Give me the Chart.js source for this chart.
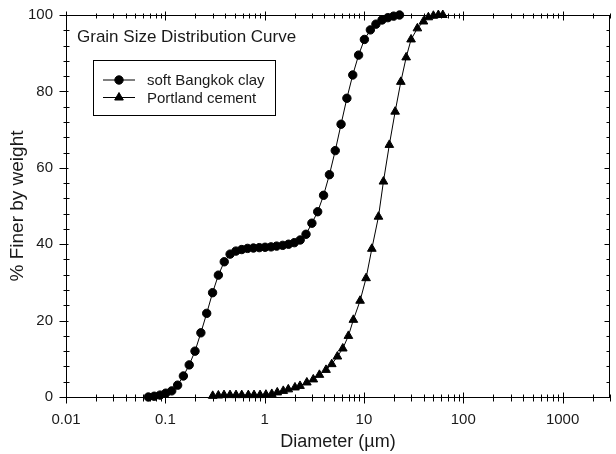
<!DOCTYPE html>
<html>
<head>
<meta charset="utf-8">
<script src="https://cdn.jsdelivr.net/npm/chart.js@4.4.0/dist/chart.umd.min.js"></script>
<style>
  html, body { margin: 0; padding: 0; background: #fff; }
  #wrap { width: 616px; height: 454px; }
</style>
</head>
<body>
<div id="wrap"><canvas id="gsd" width="616" height="454"></canvas></div>
<script>
// values (diameter in µm, % finer by weight)
const clayDiameter = [0.0675, 0.0773, 0.0885, 0.101, 0.116, 0.133, 0.152, 0.174, 0.199, 0.228,
  0.261, 0.299, 0.342, 0.392, 0.449, 0.514, 0.588, 0.673, 0.771, 0.883,
  1.01, 1.16, 1.32, 1.52, 1.74, 1.99, 2.28, 2.61, 2.99, 3.42,
  3.92, 4.49, 5.14, 5.88, 6.73, 7.71, 8.83, 10.1, 11.6, 13.2,
  15.2, 17.4, 19.9, 22.8];
const clayFiner = [0, 0.2, 0.5, 1.0, 1.6, 3.1, 5.5, 8.4, 12.0, 16.8,
  21.9, 27.3, 31.9, 35.4, 37.4, 38.2, 38.6, 38.9, 39.0, 39.1,
  39.2, 39.3, 39.5, 39.7, 40.0, 40.4, 41.1, 42.6, 45.5, 48.5,
  52.8, 58.2, 64.5, 71.4, 78.2, 84.3, 89.5, 93.6, 96.1, 97.6,
  98.7, 99.3, 99.7, 100];

const cementDiameter = [0.300, 0.342, 0.390, 0.448, 0.515, 0.588, 0.685, 0.782, 0.899, 1.03,
  1.18, 1.34, 1.54, 1.73, 2.02, 2.27, 2.66, 3.09, 3.56, 4.15,
  4.74, 5.40, 6.12, 6.97, 7.82, 9.14, 10.5, 12.0, 14.0, 15.7,
  18.0, 20.6, 23.5, 26.6, 29.8, 34.5, 39.7, 44.5, 50.0, 56.1,
  62.2];
const cementFiner = [0.3, 0.4, 0.5, 0.5, 0.5, 0.5, 0.5, 0.5, 0.5, 0.6,
  0.8, 1.2, 1.6, 2.0, 2.5, 2.9, 3.8, 4.6, 5.8, 7.1,
  8.6, 10.6, 12.7, 16.0, 20.2, 25.2, 31.1, 38.8, 47.2, 56.4,
  66.0, 74.7, 82.5, 88.9, 93.6, 96.5, 98.3, 99.4, 99.8, 100, 100];

const xTickValues = [0.01, 0.1, 1, 10, 100, 1000];
const xTickLabels = ['0.01', '0.1', '1', '10', '100', '1000'];
const yTickValues = [0, 20, 40, 60, 80, 100];
const seriesNames = ['soft Bangkok clay', 'Portland cement'];
const plotTitle = 'Grain Size Distribution Curve';

const FONT = 'Arial, "Liberation Sans", sans-serif';
const INK = '#1a1a1a';

const toPoints = (xs, ys) => xs.map((d, i) => ({ x: d, y: ys[i] }));

// frame with crossing ticks on all four sides
const frameTicks = {
  id: 'frameTicks',
  beforeDatasetsDraw(chart) {
    const { ctx, chartArea: a, scales: { x, y } } = chart;
    const L = Math.round(a.left) + 0.5, R = Math.round(a.right) - 0.5;
    const T = Math.round(a.top) + 0.5, B = Math.round(a.bottom) + 0.5;
    ctx.save();
    ctx.strokeStyle = '#000';
    ctx.lineWidth = 1;
    ctx.strokeRect(L, T, R - L, B - T);
    ctx.beginPath();
    const seg = (x1, y1, x2, y2) => { ctx.moveTo(x1, y1); ctx.lineTo(x2, y2); };

    xTickValues.forEach(v => {
      for (let m = 1; m <= 9; m++) {
        const px = Math.round(x.getPixelForValue(v * m)) + 0.5;
        if (px > R + 1) break;
        const major = m === 1;
        seg(px, B - (major ? 5 : 3), px, B + (major ? 6 : 4));
        seg(px, T - (major ? 4 : 2), px, T + (major ? 5 : 3));
      }
    });

    for (let v = 0; v <= 100; v += 4) {
      const py = Math.round(y.getPixelForValue(v)) + 0.5;
      const major = v % 20 === 0;
      seg(L - (major ? 7 : 3), py, L + (major ? 2 : 3), py);
      seg(R - (major ? 5 : 3), py, R, py);
    }
    ctx.stroke();
    ctx.restore();
  },
  afterDatasetsDraw(chart) {
    const { ctx } = chart;
    ctx.save();
    ctx.fillStyle = INK;
    ctx.textBaseline = 'middle';
    ctx.textAlign = 'left';
    ctx.font = '17px ' + FONT;
    ctx.fillText(plotTitle, 77, 37);

    // legend box
    ctx.strokeStyle = '#000';
    ctx.lineWidth = 1;
    ctx.strokeRect(93.5, 60.5, 182, 55);
    ctx.font = '15px ' + FONT;
    chart.data.datasets.forEach((ds, i) => {
      const ry = 80 + i * 17.5;
      ctx.beginPath();
      ctx.moveTo(103, ry);
      ctx.lineTo(135, ry);
      ctx.stroke();
      ctx.fillStyle = '#000';
      Chart.helpers.drawPoint(ctx, {
        pointStyle: ds.pointStyle, radius: ds.pointRadius, rotation: 0, borderWidth: 1
      }, 119, ry);
      ctx.fillStyle = INK;
      ctx.fillText(ds.label, 147, ry + 1);
    });
    ctx.restore();
  }
};

new Chart(document.getElementById('gsd'), {
  type: 'line',
  data: {
    datasets: [
      {
        label: seriesNames[0],
        data: toPoints(clayDiameter, clayFiner),
        borderColor: '#000', backgroundColor: '#000', borderWidth: 1,
        pointStyle: 'circle', pointRadius: 4.2, pointBorderWidth: 1,
        tension: 0, clip: false
      },
      {
        label: seriesNames[1],
        data: toPoints(cementDiameter, cementFiner),
        borderColor: '#000', backgroundColor: '#000', borderWidth: 1,
        pointStyle: 'triangle', pointRadius: 5, pointBorderWidth: 1,
        tension: 0, clip: false
      }
    ]
  },
  options: {
    responsive: false,
    animation: false,
    devicePixelRatio: 1,
    layout: { padding: { top: 15, right: 4, left: 0, bottom: 0 } },
    plugins: { legend: { display: false }, tooltip: { enabled: false } },
    scales: {
      x: {
        type: 'logarithmic',
        min: 0.01,
        max: 3000,
        afterBuildTicks: s => { s.ticks = xTickValues.map(v => ({ value: v })); },
        afterFit: s => { s.height = 57; s.paddingLeft = 0; s.paddingRight = 0; },
        grid: { display: false, drawTicks: false },
        border: { display: false },
        ticks: {
          autoSkip: false, maxRotation: 0, padding: 14, color: INK,
          font: { family: FONT, size: 15 },
          callback: (v, i) => xTickLabels[i]
        },
        title: {
          display: true, text: 'Diameter (µm)', color: INK,
          font: { family: FONT, size: 18 }, padding: { top: 0, bottom: 1 }
        }
      },
      y: {
        type: 'linear',
        min: 0,
        max: 100,
        afterBuildTicks: s => { s.ticks = yTickValues.map(v => ({ value: v })); },
        afterFit: s => { s.width = 66; s.paddingTop = 0; s.paddingBottom = 0; },
        grid: { display: false, drawTicks: false },
        border: { display: false },
        ticks: {
          padding: 13, color: INK,
          font: { family: FONT, size: 15 }
        },
        title: {
          display: true, text: '% Finer by weight', color: INK,
          font: { family: FONT, size: 19 }, padding: { top: 6, bottom: 0 }
        }
      }
    }
  },
  plugins: [frameTicks]
});
</script>
</body>
</html>
